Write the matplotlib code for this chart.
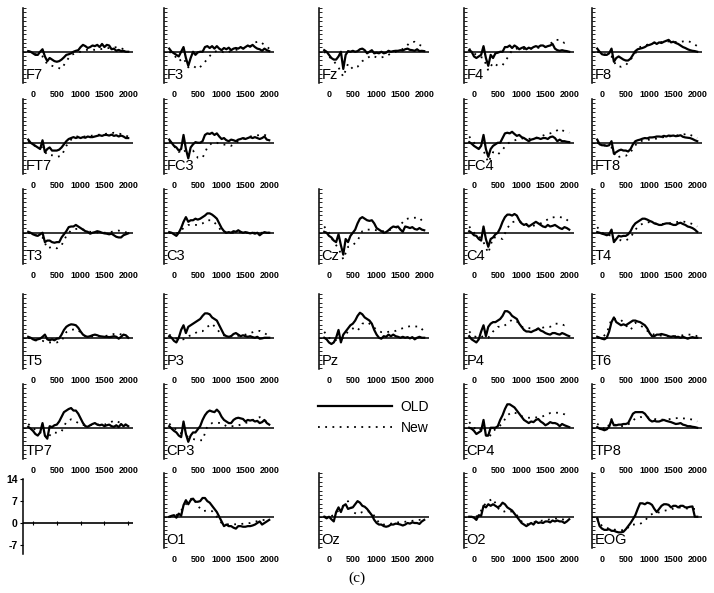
import matplotlib
matplotlib.use("Agg")
import matplotlib.pyplot as plt
import numpy as np

# ---------------- time grids (ms) ----------------
t_old = list(range(-100, 2001, 50))    # OLD condition samples
t_new = list(range(-100, 2001, 100))   # New condition samples
xtick_vals = [0, 500, 1000, 1500, 2000]
xtick_labels = ["0", "500", "1000", "1500", "2000"]
scale_ticks = [14, 7, 0, -7]
scale_labels = ["14", "7", "0", "-7"]

# ---------------- data (µV) ----------------
F7_old = [0.2, 0, -0.5, -1, -1, 0, 0.8, -1.5, -3, -2,
          -2.5, -3, -3.2, -3, -2.5, -1.8, -1, -0.8, -0.5, 0,
          0.3, 0.5, 1.5, 2.2, 1.8, 1.2, 1.5, 2.0, 1.8, 2.2,
          1.5, 2.5, 1.5, 2.2, 2.0, 0.8, 1.0, 0.3, 0.6, 0.2,
          0.3, 0, 0]
F7_new = [0.2, -0.5, -1, -1.5, -4, -4.5, -5, -5.5, -3, -1, -0.5, 0, 0.5, 0.8, 0.6, 0.8, 1.0, 1.2, 1.4, 1.5, 0.8, 0.3]

F3_old = [1, 0, -0.5, -1, -1.5, 0, 1.5, -2, -4.5, -2,
          0, -1, -0.2, 0, 0, 1.5, 1.8, 1.2, 1.8, 1.0,
          1.8, 1.0, 0.5, 1.2, 0.8, 1.3, 0.5, 1.0, 1.2, 1.0,
          1.5, 1.0, 1.5, 2.0, 1.6, 2.2, 1.5, 1.0, 0.8, 0.3,
          1.0, 0.5, 0.2]
F3_new = [0, -1, -3, -2, -5, -4.5, -5.5, -4.2, -2.3, -0.5, 0.3, 0, -0.4, 0.3, 0.6, 0.8, 1.2, 1.8, 3.0, 3.3, 2.2, 1.0]

Fz_old = [0.5, 0, -1, -2, -2.5, -2.5, -1.5, 0, -5.5, -1,
          0.2, 0, 0.3, 0, 0.2, 0.8, 1.0, 0.5, -0.5, 0,
          0.5, -0.5, -0.3, -0.5, 0, -0.5, -0.3, 0.3, 0, 0.2,
          0.3, 0.3, 0.5, 0.4, 0.8, 1.0, 0.6, 0.5, 0.3, 0.8,
          0.2, 0.3, 0.2]
Fz_new = [0, -1.5, -3, -5, -8, -3.8, -5.5, -4.8, -3, -2, -1.2, -1.8, -1.8, -1.5, -0.5, 0, 0.5, 1.3, 3.0, 3.2, 2.2, 1.5]

F4_old = [0.5, 0, -1.5, -2, -1.5, -1, 1.8, -2, -4.5, -1,
          -2, -0.5, -0.3, 0, 0, 1.5, 1.5, 2.0, 1.2, 2.0,
          1.5, 0.8, 1.2, 1.5, 0.8, 1.3, 1.0, 1.5, 1.8, 1.5,
          2.0, 2.0, 1.5, 1.8, 2.0, 2.5, 1.0, 0.5, 0.3, 0.5,
          0.3, 0.2, 0]
F4_new = [1, -0.5, -1.5, -2, -6, -3.5, -4.5, -4.3, -2, 0.5, 1.0, 1.0, 0.8, 1.0, 1.2, 1.3, 1.5, 2.5, 3.8, 3.8, 2.8, 3.0]

F8_old = [1.0, 0, -0.8, -1, -1, -0.5, 1, -3.2, -2, -1.5,
          -2.0, -2.5, -2.8, -2.8, -2.2, -1, 0.2, 0.8, 1.0, 1.2,
          1.5, 2.0, 2.2, 2.5, 3.0, 2.5, 3.0, 2.8, 3.2, 3.5,
          3.8, 3.0, 3.2, 2.8, 2.5, 2.0, 1.5, 1.2, 0.8, 0.5,
          0.3, 0.2, 0]
F8_new = [0, -0.5, -1, -1.5, -4.5, -4.8, -4.3, -2.5, -0.5, 1.5, 2.0, 2.5, 2.8, 3.0, 3.2, 3.3, 3.2, 3.0, 3.3, 3.5, 2.8, 1.8]

FT7_old = [1.0, 0, -0.5, -1, -1.5, -2, 0.8, -3.0, -2, -1.5,
           -2.5, -2.5, -2.5, -2.2, -1.5, -0.5, 0.5, 1.2, 1.5, 1.8,
           1.5, 1.8, 1.5, 1.8, 1.6, 2.0, 1.8, 1.8, 2.0, 2.2,
           2.4, 2.2, 2.5, 2.5, 2.3, 2.6, 2.2, 2.4, 2.0, 2.3,
           2.0, 1.5, 1.5]
FT7_new = [0.5, -0.8, -1.2, -1.5, -4, -4, -4.5, -4.2, -1, 1, 2, 2, 2, 2.2, 2.4, 2.6, 2.8, 3.0, 3.2, 3.0, 2.5, 2.0]

FC3_old = [1, 0, -1, -1.5, -2.5, -2.0, 2.5, -2, -5, -1.5,
           -0.5, 0.2, 0, 0, 0.5, 2.5, 3.0, 2.8, 3.2, 2.5,
           3.0, 2.0, 1.2, 1.5, 0.8, 0.5, 1.0, 0.8, 0.5, 1.0,
           1.2, 1.5, 1.2, 1.5, 1.8, 1.5, 1.8, 1.5, 1.2, 1.5,
           2.0, 1.0, 0.8]
FC3_new = [0.5, -1, -3, -2, -4.3, -2.5, -4.8, -4.8, -1.5, 0, 0, -0.6, -0.6, -1, 0, 0.8, 1.5, 2.0, 2.2, 2.5, 2.5, 2.0]

FC4_old = [0.2, -0.3, -1, -1.5, -2, -1, 2.5, -2, -4.5, -2,
           -1, -0.5, 0, 0, 1.5, 3.0, 3.2, 3.0, 3.5, 2.8,
           2.2, 2.5, 1.8, 1.5, 1.0, 0.5, 1.0, 1.2, 1.5, 1.5,
           1.2, 1.5, 1.5, 1.2, 1.8, 2.0, 1.5, 0.5, 1.0, 0.5,
           0.5, 0.3, 0.2]
FC4_new = [2, 0, -1.5, -2.5, -6.3, -3, -3.8, -2.2, -0.3, 0.5, 1, 1.4, 1.2, 1.3, 1.6, 2.0, 2.6, 3.0, 3.5, 4.5, 3.6, 3.2]

FT8_old = [1.0, -0.5, -0.8, -0.8, -1.0, -0.8, 0.5, -3.5, -3.0, -2.5,
           -2.2, -2.5, -2.5, -2.8, -2.0, -0.5, 0.5, 0.8, 1.0, 1.3,
           1.5, 1.4, 1.7, 1.7, 1.8, 2.0, 2.0, 1.9, 2.2, 2.0,
           2.3, 2.2, 2.3, 2.1, 2.2, 2.4, 1.9, 1.7, 1.6, 1.5,
           1.2, 0.8, 0.5]
FT8_new = [0, -0.8, -1, -1.5, -4.8, -4.3, -4.2, -3.0, -0.8, 0.5, 0.8, 1.0, 1.2, 1.5, 1.8, 2.0, 2.2, 2.4, 2.6, 2.9, 2.2, 1.5]

T3_old = [0.3, 0, -0.5, -0.8, -1, -0.5, 0, -3, -2.5, -2.5,
          -3.0, -3.2, -3.0, -3.0, -1.5, -0.5, 0.5, 1.8, 2.0, 2.0,
          2.5, 2.0, 1.5, 1.0, 0.5, 0.3, -0.3, 0, 0.2, 0.5,
          0.3, 0, -0.2, -0.3, -0.5, -0.3, -0.8, -1.3, -1.5, -1.5,
          -0.8, -0.5, -0.2]
T3_new = [0, -0.5, -1, -1.5, -5, -4.5, -5, -4, -1, 0.8, 1.2, 1.3, 0.8, 0.3, 0.2, 0, 0, 0.2, 0.4, 0.7, 0.3, 0]

C3_old = [0.2, 0, -0.5, -1, 0, 1.5, 3.5, 5.0, 3.5, 4.0,
          4.0, 4.5, 4.2, 4.5, 5.0, 5.5, 6.2, 6.2, 5.8, 5.2,
          4.5, 3.0, 1.5, 0.5, 0, 0.2, 0, 0.5, 0.3, 0.8,
          0.3, 0, 0.2, 0, -0.2, 0, -0.3, 0, -0.8, -0.2,
          0.2, 0, 0]
C3_new = [0, -0.3, 0, 1.5, 2.5, 2.5, 2.5, 3.0, 4.0, 4.0, 2.5, 0.5, 0, 0, 0, 0.2, 0, 0, 0, 0, 0, 0]

Cz_old = [0.3, 0, -1, -1.5, -2.5, -3.0, -0.5, -4, -7, -2,
          -3, -1, 0, 1.0, 3.0, 4.5, 5.0, 4.5, 4.0, 3.8,
          4.0, 3.0, 1.5, 1.0, 0.5, 0, 0.2, 0.8, 1.5, 2.0,
          1.8, 2.0, 1.0, 0.3, 2.0, 1.8, 1.5, 1.8, 1.2, 1.0,
          1.5, 1.0, 0.8]
Cz_new = [2, 0, -3, -5, -8.5, -4.5, -4, -2.5, 0.5, 1.0, 1.0, 0.8, 0.5, 0.5, 1.0, 1.5, 2.5, 4.3, 4.7, 4.8, 4.8, 3.0]

C4_old = [0.5, 0, -0.8, -1, -2, -2.5, 2.0, -2, -4.5, -2,
          -1.5, -0.5, 0, 1.5, 3.5, 5.0, 5.8, 5.8, 5.5, 6.0,
          5.5, 4.0, 3.0, 2.5, 2.8, 2.0, 2.5, 3.0, 3.5, 3.0,
          2.5, 2.0, 1.8, 2.5, 2.0, 2.2, 2.5, 2.0, 1.5, 1.2,
          1.8, 1.5, 1.0]
C4_new = [2, 0, -1, -3, -6.5, -1.5, -1.5, -2, 1.5, 3.4, 3.7, 3.2, 2.5, 2.0, 2.5, 3.0, 3.8, 4.8, 5.0, 5.0, 4.8, 3.5]

T4_old = [0.2, 0, -0.3, -0.5, -0.8, -0.5, 1, -3, -2, -1,
          -1.2, -1, -1, -0.5, 0.5, 2.0, 3.0, 3.5, 4.0, 4.5,
          4.5, 4.2, 3.8, 3.5, 3.0, 2.8, 2.5, 2.5, 2.8, 3.0,
          3.0, 2.8, 2.5, 2.5, 3.0, 3.2, 2.8, 2.5, 2.0, 1.8,
          1.5, 1.0, 0.3]
T4_new = [1.8, 0, -0.5, -1, -3, -2.3, -2.5, -1.5, 1.0, 2.5, 3.2, 3.4, 3.0, 2.8, 2.8, 3.0, 3.2, 3.5, 3.6, 3.3, 2.8, 2.0]

T5_old = [0.3, 0, -0.5, -0.8, -0.5, -0.3, 0.3, 1.0, -0.5, -0.8,
          -0.5, -0.8, -0.3, -0.2, 1.0, 2.5, 3.5, 4.0, 4.3, 4.2,
          4.0, 3.2, 2.0, 1.0, 0.5, 0.3, 0.5, 0.8, 1.0, 0.8,
          0.5, 0.4, 0.3, 0.3, 0.2, 0.3, 0.5, 0.3, -0.3, 0.3,
          1.0, 0.8, 0]
T5_new = [0, -0.5, -1, -1, -1.5, -1.5, -1.5, -1, 1.8, 2.5, 2.8, 1.8, 0.5, 0.3, 0.5, 0.5, 0.5, 0.8, 1.2, 1.3, 0.8, 0.2]

P3_old = [0.5, 0, -1, -1.5, 0, 2.5, 4.0, 1.5, 3.5, 4.0,
          4.5, 5.0, 5.5, 6.0, 7.0, 7.8, 7.8, 7.5, 6.5, 6.0,
          5.5, 4.0, 2.5, 1.0, 0.5, 0.3, 0.5, 1.2, 1.5, 1.0,
          0.5, 0.8, 0.5, 0.3, 0.5, 0.2, 0, 0.3, -0.3, -0.2,
          0, 0, 0]
P3_new = [1, 0, -0.5, -0.5, 0.5, 1.0, 2.0, 2.1, 3.5, 4.5, 2.8, 1.0, 0.5, 0.5, 0.5, 0.7, 1.0, 1.5, 2.0, 2.2, 1.5, 0.5]

Pz_old = [0, -0.5, -1.5, -2, -1.5, 0, 2.5, -1.5, 1.0, 2.0,
          3.0, 4.0, 4.5, 5.5, 7.0, 8.0, 7.5, 6.5, 6.0, 5.5,
          4.5, 2.5, 1.0, 0, -0.3, 0.5, 0.3, 1.0, 0.5, 1.0,
          0.5, 0.3, 0, 0.3, 0, 0.2, -0.2, 0.2, -0.5, 0,
          0.3, 0, 0]
Pz_new = [1.9, 0, -1, -0.5, 0, 2.0, 3.0, 2.2, 4.5, 5.0, 4.0, 2.5, 1.8, 1.8, 2.0, 2.2, 2.8, 3.3, 3.7, 3.6, 3.6, 2.0]

P4_old = [0.5, -0.5, -1, -1.5, -0.5, 2.0, 4.0, 0.5, 3.5, 4.5,
          5.0, 5.0, 5.5, 6.0, 7.0, 8.5, 8.5, 8.0, 7.0, 6.5,
          6.0, 4.5, 3.5, 2.5, 2.0, 2.0, 1.8, 2.2, 2.5, 3.0,
          2.3, 2.0, 1.5, 1.2, 1.0, 1.5, 1.5, 1.2, 1.0, 1.5,
          1.2, 0.8, 0.5]
P4_new = [2, 0.5, 0, 0.5, 0, 2.0, 3.5, 3.5, 4.5, 5.8, 5.2, 3.5, 3.2, 3.0, 2.5, 3.0, 3.5, 3.5, 4.5, 4.5, 4.0, 4.5]

T6_old = [0.3, 0, -0.3, -0.5, 0, 2.0, 5.0, 6.5, 5.0, 4.5,
          4.0, 4.3, 4.0, 4.5, 5.0, 5.5, 5.5, 5.2, 5.0, 4.5,
          4.0, 3.0, 1.5, 0.5, 0.5, 1.0, 1.0, 1.2, 1.0, 0.8,
          0.5, 0.3, 0.5, 0.2, 0.3, 0, 0.3, 0, -0.3, 0,
          0.2, 0, 0]
T6_new = [0, 0, 1.5, 6.0, 6.0, 5.7, 4.0, 2.5, 4.8, 4.0, 3.0, 1.5, 1.0, 0.8, 0.5, 0.5, 0.5, 0.5, 0.8, 1.0, 1.0, 0.5]

TP7_old = [0.3, -0.3, -1, -2, -2.5, -1.5, 1.5, -2.5, -3.5, 0.5,
           0.2, 0.8, 1.0, 2.0, 3.5, 5.0, 5.5, 6.0, 6.3, 5.5,
           5.5, 4.5, 3.0, 1.5, 0.5, 0.3, 0.8, 1.2, 1.5, 1.0,
           0.8, 1.0, 0.5, 0.8, 1.0, 0.5, 0.3, 0.8, 0.2, 1.2,
           0.5, 1.0, 0.5]
TP7_new = [1.2, 0, -1.5, -1.5, -3.5, -1.5, -1.6, -1.2, 1.9, 2.7, 2.0, 1.0, 0.8, 0.8, 1.0, 1.0, 1.0, 1.5, 2.3, 1.8, 1.2, 0.8]

CP3_old = [0.5, -0.3, -1, -1.5, -2.5, -3.0, 2.0, -2.0, -4.5, -2.5,
           -1.5, -1.5, -0.5, 0.5, 2.5, 4.0, 5.0, 5.5, 5.2, 5.0,
           5.8, 5.0, 3.5, 2.5, 2.0, 1.5, 1.5, 2.5, 3.0, 3.2,
           3.0, 2.8, 2.0, 2.5, 2.3, 2.5, 2.0, 2.2, 1.5, 1.8,
           2.5, 1.5, 1.0]
CP3_new = [1.3, 0, -1.5, -2, -3, -3.6, -4, -4, 0.5, 1.5, 1.6, 1.5, 0.5, 0.5, 0.5, 1.0, 1.5, 2.0, 2.8, 3.4, 2.3, 1.5]

CP4_old = [0, -0.3, -1, -2, -1.5, -1.0, 2.5, -2.5, -2.5, 0,
           0, 0, 0.5, 2.5, 4.0, 6.0, 7.5, 7.5, 7.0, 6.5,
           5.5, 4.5, 3.5, 2.5, 2.0, 1.5, 2.0, 1.8, 2.5, 2.8,
           2.0, 1.5, 0.8, 1.2, 1.8, 1.5, 1.5, 1.2, 0.5, 1.2,
           0.8, 0.5, 0.2]
CP4_new = [1.8, 0, -1, 0.5, -3.5, -1.0, 0, 1.5, 4.0, 5.0, 4.6, 3.7, 3.2, 3.2, 3.3, 3.4, 4.0, 4.7, 4.8, 4.8, 4.3, 3.4]

TP8_old = [0.2, -0.3, -0.5, -0.8, -0.5, 0.3, 2.5, 0.8, 0.8, 1.0,
           1.0, 1.2, 1.2, 1.5, 3.0, 4.5, 5.0, 5.0, 5.0, 5.0,
           4.5, 3.5, 2.5, 2.0, 2.2, 2.0, 2.0, 2.3, 2.5, 2.2,
           2.0, 1.8, 1.5, 1.2, 1.3, 1.5, 1.0, 0.8, 0.5, 0.5,
           0.3, 0.2, 0]
TP8_new = [1.3, 0, -0.5, 2.8, 0.5, 0.5, 0.7, 1.5, 3.0, 3.4, 3.4, 3.2, 2.8, 2.6, 2.6, 2.7, 3.0, 3.1, 3.0, 2.9, 2.6, 2.0]

O1_old = [0, 0.3, 0.5, -0.3, 1.0, 0.3, 3.7, 5.3, 4.0, 5.3,
          5.8, 4.8, 4.8, 5.0, 6.0, 6.0, 5.0, 4.5, 3.5, 2.5,
          1.5, 0, -1.5, -3.0, -2.5, -3.0, -3.0, -3.5, -3.8, -3.0,
          -3.0, -3.2, -3.2, -3.0, -3.0, -2.8, -2.5, -2.0, -1.5, -2.5,
          -2.0, -1.5, -1.0]
O1_new = [0, 0, 1.0, 3.0, 5.0, 6.2, 3.5, 1.8, 2.0, 1.8, 0, -2.0, -2.4, -2.5, -2.4, -2.3, -2.2, -2.0, -1.6, -1.2, -1.0, -0.8]

Oz_old = [0, -0.5, 0, -0.8, -1.5, 1.5, 3.0, 1.5, 3.5, 4.0,
          2.5, 2.8, 3.0, 4.0, 5.0, 4.5, 3.5, 3.2, 2.5, 1.5,
          0.5, -1.0, -2.0, -2.5, -2.5, -3.0, -3.2, -3.0, -2.5, -2.5,
          -2.2, -2.3, -2.5, -2.8, -2.5, -2.0, -2.2, -1.8, -2.0, -2.0,
          -2.3, -1.5, -1.0]
Oz_new = [0, 0, 0.5, 2.0, 3.5, 5.0, 1.5, 0.8, 1.5, 1.8, 1.5, -1.0, -2.5, -2.5, -2.2, -1.8, -1.8, -1.6, -1.4, -1.2, -1.0, -0.8]

O2_old = [0, 0, -0.3, -1.0, 0.5, 0.3, 3.5, 3.0, 4.0, 3.5,
          4.0, 3.5, 3.0, 3.5, 4.5, 4.0, 3.0, 2.5, 2.0, 1.0,
          0, -1.0, -2.0, -2.5, -3.0, -2.5, -2.0, -2.5, -1.5, -2.0,
          -1.8, -2.0, -1.5, -1.5, -1.8, -1.2, -1.5, -1.2, -1.5, -1.5,
          -2.0, -1.5, -0.8]
O2_new = [0, -0.3, 0.5, 3.5, 5.0, 5.8, 2.8, 1.5, 2.0, 1.6, 0.5, -1.5, -2.5, -2.0, -1.6, -1.3, -1.1, -0.8, -0.6, -0.5, -1.0, -0.8]

EOG_old = [-0.5, -3.0, -3.8, -4.2, -4.2, -4.0, -4.5, -4.5, -4.8, -5.0,
           -5.0, -4.8, -4.0, -3.0, -2.0, -0.8, 0.5, 2.5, 4.3, 4.3,
           4.0, 4.5, 4.3, 3.8, 2.5, 1.5, 2.5, 3.5, 4.0, 4.0,
           3.8, 3.0, 3.5, 3.5, 3.0, 3.5, 3.5, 3.0, 3.0, 3.2,
           3.3, 0, 0]
EOG_new = [-0.5, -3, -3.6, -4, -4.2, -4.3, -4.3, -2.5, -2.5, -2.3, -1.3, 0.5, 1.2, 1.4, 1.9, 2.2, 2.6, 3.0, 2.8, 2.6, 2.5, 2.5]

channels = {
    "F7": (F7_old, F7_new), "F3": (F3_old, F3_new), "Fz": (Fz_old, Fz_new),
    "F4": (F4_old, F4_new), "F8": (F8_old, F8_new),
    "FT7": (FT7_old, FT7_new), "FC3": (FC3_old, FC3_new),
    "FC4": (FC4_old, FC4_new), "FT8": (FT8_old, FT8_new),
    "T3": (T3_old, T3_new), "C3": (C3_old, C3_new), "Cz": (Cz_old, Cz_new),
    "C4": (C4_old, C4_new), "T4": (T4_old, T4_new),
    "T5": (T5_old, T5_new), "P3": (P3_old, P3_new), "Pz": (Pz_old, Pz_new),
    "P4": (P4_old, P4_new), "T6": (T6_old, T6_new),
    "TP7": (TP7_old, TP7_new), "CP3": (CP3_old, CP3_new),
    "CP4": (CP4_old, CP4_new), "TP8": (TP8_old, TP8_new),
    "O1": (O1_old, O1_new), "Oz": (Oz_old, Oz_new),
    "O2": (O2_old, O2_new), "EOG": (EOG_old, EOG_new),
}

grid = [
    ["F7", "F3", "Fz", "F4", "F8"],
    ["FT7", "FC3", None, "FC4", "FT8"],
    ["T3", "C3", "Cz", "C4", "T4"],
    ["T5", "P3", "Pz", "P4", "T6"],
    ["TP7", "CP3", "LEGEND", "CP4", "TP8"],
    ["SCALE", "O1", "Oz", "O2", "EOG"],
]

# ---------------- layout (pixels) ----------------
W, H = 714, 593
col_left = [23, 164, 319, 464, 592]
row_top = [8, 99, 189, 294, 384, 473]
AX_W, AX_H = 109.5, 75
XLIM = (-210, 2090)
YLIM = (-10, 14)

plt.rcParams["font.family"] = ["Liberation Sans", "DejaVu Sans"]
fig = plt.figure(figsize=(W / 100, H / 100), dpi=100)


def add_ax(left, top):
    return fig.add_axes([left / W, 1 - (top + AX_H) / H, AX_W / W, AX_H / H])


handles = None
for r, row in enumerate(grid):
    for c, name in enumerate(row):
        if name is None or name == "LEGEND":
            continue
        if name == "SCALE":
            ax = add_ax(col_left[c], row_top[r] + 6)
            ax.set_xlim(*XLIM)
            ax.set_ylim(-10, 14)
            for s in ("top", "right", "bottom"):
                ax.spines[s].set_visible(False)
            ax.spines["left"].set_linewidth(1.1)
            ax.axhline(0, color="black", lw=1.2)
            ax.plot(xtick_vals, [0] * len(xtick_vals), ls="none", marker="|",
                    ms=2.5, mew=0.8, color="black")
            ax.set_xticks([])
            ax.set_yticks(scale_ticks)
            ax.set_yticklabels(scale_labels, fontsize=7.5, fontweight="bold")
            ax.tick_params(axis="y", direction="out", length=2, width=0.8, pad=2)
            ax.patch.set_visible(False)
            continue
        old, new = channels[name]
        ax = add_ax(col_left[c], row_top[r])
        ax.set_xlim(*XLIM)
        ax.set_ylim(*YLIM)
        for s in ("top", "right", "bottom"):
            ax.spines[s].set_visible(False)
        ax.spines["left"].set_linewidth(1.1)
        ax.axhline(0, color="black", lw=1.1)
        l1, = ax.plot(t_old[:len(old)], old, color="black", lw=1.6,
                      solid_joinstyle="round", label="OLD")
        l2, = ax.plot(t_new[:len(new)], new, color="black", lw=1.3,
                      ls=(0, (1, 3)), label="New")
        if handles is None:
            handles = [l1, l2]
        ax.set_xticks(xtick_vals)
        ax.set_xticklabels(xtick_labels, fontsize=6.4, fontweight="bold")
        ax.tick_params(axis="x", length=0, pad=5)
        ax.set_yticks(np.arange(-9.8, 14.01, 1.4))
        ax.set_yticklabels([])
        ax.tick_params(axis="y", direction="in", length=2, width=0.6)
        ax.text(0.025, 0.01, name, transform=ax.transAxes, fontsize=10.5,
                ha="left", va="bottom")
        ax.patch.set_visible(False)

# legend in empty slot
fig.legend(handles, ["OLD", "New"], loc="center left",
           bbox_to_anchor=(318 / W, 1 - 417.5 / H), frameon=False,
           fontsize=10, handlelength=5.3, handletextpad=0.65,
           labelspacing=0.5, borderpad=0, borderaxespad=0)

fig.text(357 / W, 1 - 578 / H, "(c)", ha="center", va="center",
         fontsize=11, family=["Liberation Serif", "DejaVu Serif"])

fig.savefig("out.png", dpi=100)
